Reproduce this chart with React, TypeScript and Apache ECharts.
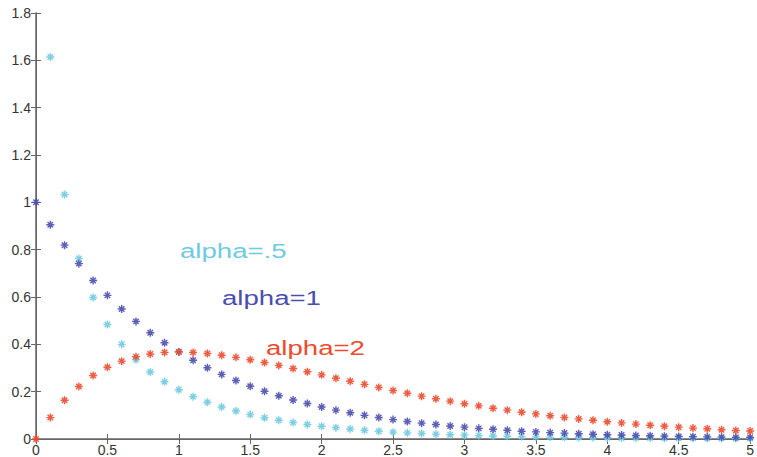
import React, { useEffect, useRef } from "react";
import * as echarts from "echarts";

const xValues = [
  0, 0.1, 0.2, 0.3, 0.4, 0.5, 0.6, 0.7, 0.8, 0.9,
  1, 1.1, 1.2, 1.3, 1.4, 1.5, 1.6, 1.7, 1.8, 1.9,
  2, 2.1, 2.2, 2.3, 2.4, 2.5, 2.6, 2.7, 2.8, 2.9,
  3, 3.1, 3.2, 3.3, 3.4, 3.5, 3.6, 3.7, 3.8, 3.9,
  4, 4.1, 4.2, 4.3, 4.4, 4.5, 4.6, 4.7, 4.8, 4.9, 5,
];

const alphaHalf = [
  null, 1.614, 1.033, 0.763, 0.598, 0.484, 0.4, 0.335, 0.283, 0.242,
  0.208, 0.179, 0.155, 0.135, 0.118, 0.103, 0.09, 0.079, 0.07, 0.061,
  0.054, 0.048, 0.042, 0.037, 0.033, 0.029, 0.026, 0.023, 0.0205, 0.0182,
  0.0162, 0.0144, 0.0129, 0.0115, 0.0102, 0.0091, 0.0081, 0.0072, 0.0065, 0.0058,
  0.0052, 0.0046, 0.0041, 0.0037, 0.0033, 0.003, 0.0027, 0.0024, 0.0021, 0.0019, 0.0017,
];

const alphaOne = [
  1, 0.905, 0.819, 0.741, 0.67, 0.607, 0.549, 0.497, 0.449, 0.407,
  0.368, 0.333, 0.301, 0.273, 0.247, 0.223, 0.202, 0.183, 0.165, 0.15,
  0.135, 0.122, 0.111, 0.1, 0.091, 0.082, 0.074, 0.067, 0.061, 0.055,
  0.05, 0.045, 0.041, 0.037, 0.033, 0.03, 0.027, 0.025, 0.022, 0.02,
  0.018, 0.017, 0.015, 0.014, 0.012, 0.011, 0.01, 0.009, 0.008, 0.007, 0.007,
];

const alphaTwo = [
  0, 0.0905, 0.164, 0.222, 0.268, 0.303, 0.329, 0.348, 0.359, 0.366,
  0.368, 0.366, 0.361, 0.354, 0.345, 0.335, 0.323, 0.311, 0.298, 0.284,
  0.271, 0.257, 0.244, 0.231, 0.218, 0.205, 0.193, 0.181, 0.17, 0.16,
  0.149, 0.14, 0.13, 0.122, 0.113, 0.106, 0.098, 0.091, 0.085, 0.079,
  0.073, 0.068, 0.063, 0.058, 0.054, 0.05, 0.046, 0.043, 0.039, 0.036, 0.034,
];

const seriesNames = ["alpha=.5", "alpha=1", "alpha=2"];
const seriesColors = ["#6fcbe0", "#4a4db0", "#ee4a2c"];

const ASTERISK =
  "path://M5 0L5 10M0 5L10 5M1.6 1.6L8.4 8.4M8.4 1.6L1.6 8.4";

export default function App() {
  const ref = useRef<HTMLDivElement>(null);
  useEffect(() => {
    const chart = echarts.init(ref.current!, null, { renderer: "svg" });
    const allSeries = [alphaHalf, alphaOne, alphaTwo];
    const font = "'Liberation Sans', Arial, Helvetica, sans-serif";
    const axisLine = { show: true, lineStyle: { color: "#666", width: 1.5 } };
    chart.setOption({
      animation: false,
      backgroundColor: "#fff",
      grid: { left: 36, right: 6, top: 13, bottom: 17 },
      xAxis: [
        {
          type: "value",
          min: 0,
          max: 5,
          interval: 0.5,
          axisLine,
          axisTick: { inside: true, length: 5, lineStyle: { color: "#666" } },
          axisLabel: { color: "#333", fontSize: 14, fontFamily: font, margin: 4 },
          splitLine: { show: false },
        },
        {
          type: "value",
          position: "top",
          min: 0,
          max: 5,
          interval: 0.5,
          axisLine: { show: true, lineStyle: { color: "#666", width: 1 } },
          axisTick: { inside: true, length: 5, lineStyle: { color: "#666" } },
          axisLabel: { show: false },
          splitLine: { show: false },
        },
      ],
      yAxis: [
        {
          type: "value",
          min: 0,
          max: 1.8,
          interval: 0.2,
          axisLine,
          axisTick: { inside: true, length: 5, lineStyle: { color: "#666" } },
          axisLabel: { color: "#333", fontSize: 14, fontFamily: font, margin: 5 },
          splitLine: { show: false },
        },
        {
          type: "value",
          position: "right",
          min: 0,
          max: 1.8,
          interval: 0.2,
          axisLine: { show: true, lineStyle: { color: "#666", width: 1 } },
          axisTick: { inside: true, length: 5, lineStyle: { color: "#666" } },
          axisLabel: { show: false },
          splitLine: { show: false },
        },
      ],
      series: allSeries.map((vals, i) => ({
        name: seriesNames[i],
        type: "scatter",
        symbol: ASTERISK,
        symbolSize: 8,
        clip: false,
        itemStyle: {
          color: "none",
          borderColor: seriesColors[i],
          borderWidth: 1.4,
          opacity: 0.9,
        },
        data: xValues
          .map((x, j) => [x, vals[j]])
          .filter((p) => p[1] !== null),
      })),
      graphic: [
        { text: seriesNames[0], x: 180, y: 241, color: seriesColors[0] },
        { text: seriesNames[1], x: 222, y: 288, color: seriesColors[1] },
        { text: seriesNames[2], x: 266, y: 338, color: seriesColors[2] },
      ].map((t) => ({
        type: "text",
        x: t.x,
        y: t.y,
        scaleX: 1.38,
        style: {
          text: t.text,
          fill: t.color,
          fontSize: 20,
          fontFamily: font,
        },
      })),
    });
    return () => chart.dispose();
  }, []);
  return (
    <div
      ref={ref}
      style={{ position: "fixed", left: 0, top: 0, width: 757, height: 457 }}
    />
  );
}
